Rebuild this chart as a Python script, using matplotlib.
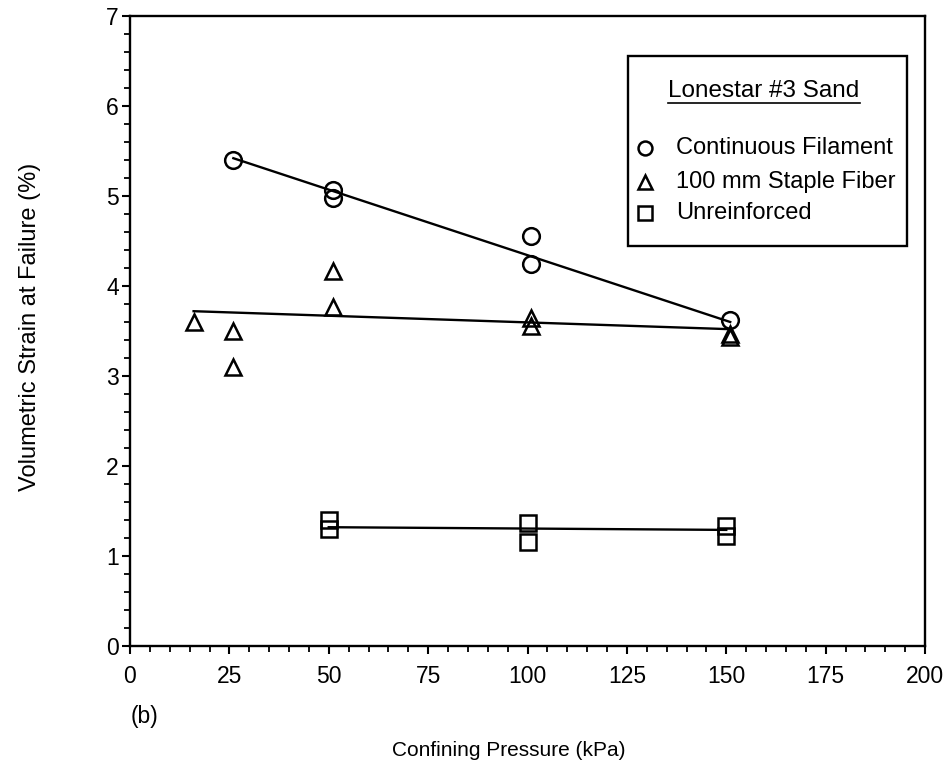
import matplotlib
matplotlib.use("Agg")
import matplotlib.pyplot as plt
from matplotlib.patches import Rectangle
from matplotlib.ticker import MultipleLocator

plt.rcParams['font.family'] = ['Liberation Sans', 'DejaVu Sans']

# data
cf_x = [26, 51, 51, 101, 101, 151]
cf_y = [5.40, 5.07, 4.98, 4.55, 4.24, 3.62]

sf_x = [16, 26, 26, 51, 51, 101, 101, 151, 151]
sf_y = [3.60, 3.50, 3.10, 4.17, 3.77, 3.64, 3.56, 3.47, 3.43]

ur_x = [50, 50, 100, 100, 150, 150]
ur_y = [1.40, 1.30, 1.37, 1.16, 1.33, 1.22]

# fitted trend lines (end points)
cf_fit_x = [26, 151]
cf_fit_y = [5.42, 3.60]
sf_fit_x = [16, 151]
sf_fit_y = [3.72, 3.52]
ur_fit_x = [50, 150]
ur_fit_y = [1.32, 1.29]

legend_labels = ["Continuous Filament", "100 mm Staple Fiber", "Unreinforced"]

# axes box in pixels
L, R, T, B = 130, 925, 16, 646
W, H = 948, 770

def ax_x(px):
    return (px - L) / (R - L)

def ax_y(py):
    return (B - py) / (B - T)

fig = plt.figure(figsize=(W / 100, H / 100), dpi=100)
ax = fig.add_axes([L / W, 1 - B / H, (R - L) / W, (B - T) / H])

mk = dict(linestyle='none', markerfacecolor='none', markeredgecolor='black',
          markeredgewidth=1.8, clip_on=False)
ax.plot(cf_fit_x, cf_fit_y, color='black', lw=1.7)
ax.plot(sf_fit_x, sf_fit_y, color='black', lw=1.7)
ax.plot(ur_fit_x, ur_fit_y, color='black', lw=1.7)
ax.plot(cf_x, cf_y, marker='o', markersize=12, **mk)
ax.plot(sf_x, sf_y, marker='^', markersize=12, **mk)
ax.plot(ur_x, ur_y, marker='s', markersize=11.5, **mk)

ax.set_xlim(0, 200)
ax.set_ylim(0, 7)
ax.xaxis.set_major_locator(MultipleLocator(25))
ax.xaxis.set_minor_locator(MultipleLocator(5))
ax.yaxis.set_major_locator(MultipleLocator(1))
ax.yaxis.set_minor_locator(MultipleLocator(0.2))
ax.tick_params(which='major', direction='out', length=6, width=1.5,
               labelsize=16.5)
ax.tick_params(which='minor', direction='out', length=4, width=1.3)
ax.tick_params(axis='x', pad=8)
ax.tick_params(axis='y', pad=2)
for s in ax.spines.values():
    s.set_linewidth(1.7)

ax.text(ax_x(509), ax_y(750), "Confining Pressure (kPa)", transform=ax.transAxes,
        fontsize=15, ha='center', va='center')
ax.text(ax_x(30), ax_y(327), "Volumetric Strain at Failure (%)",
        transform=ax.transAxes, fontsize=17, rotation=90,
        ha='center', va='center')
ax.text(ax_x(131), ax_y(717), "(b)", transform=ax.transAxes, fontsize=16.5,
        ha='left', va='center')

# legend box drawn by hand (title is underlined)
bx0, bx1 = ax_x(628), ax_x(907)
by0, by1 = ax_y(246), ax_y(56)
ax.add_patch(Rectangle((bx0, by0), bx1 - bx0, by1 - by0, transform=ax.transAxes,
                       facecolor='white', edgecolor='black', lw=1.7, zorder=5))
ax.text(ax_x(764), ax_y(91), "Lonestar #3 Sand", transform=ax.transAxes,
        fontsize=17.5, ha='center', va='center', zorder=6)
ax.plot([ax_x(668), ax_x(860)], [ax_y(103)] * 2, transform=ax.transAxes,
        color='black', lw=1.2, zorder=6, clip_on=False)
rows_y = [148, 182, 213]
for m, lab, py in zip(['o', '^', 's'], legend_labels, rows_y):
    ax.plot([ax_x(645)], [ax_y(py)], marker=m, markersize=10,
            transform=ax.transAxes, zorder=6, **mk)
    ax.text(ax_x(676), ax_y(py), lab, transform=ax.transAxes, fontsize=17,
            ha='left', va='center', zorder=6)

fig.savefig("out.png", dpi=100)
